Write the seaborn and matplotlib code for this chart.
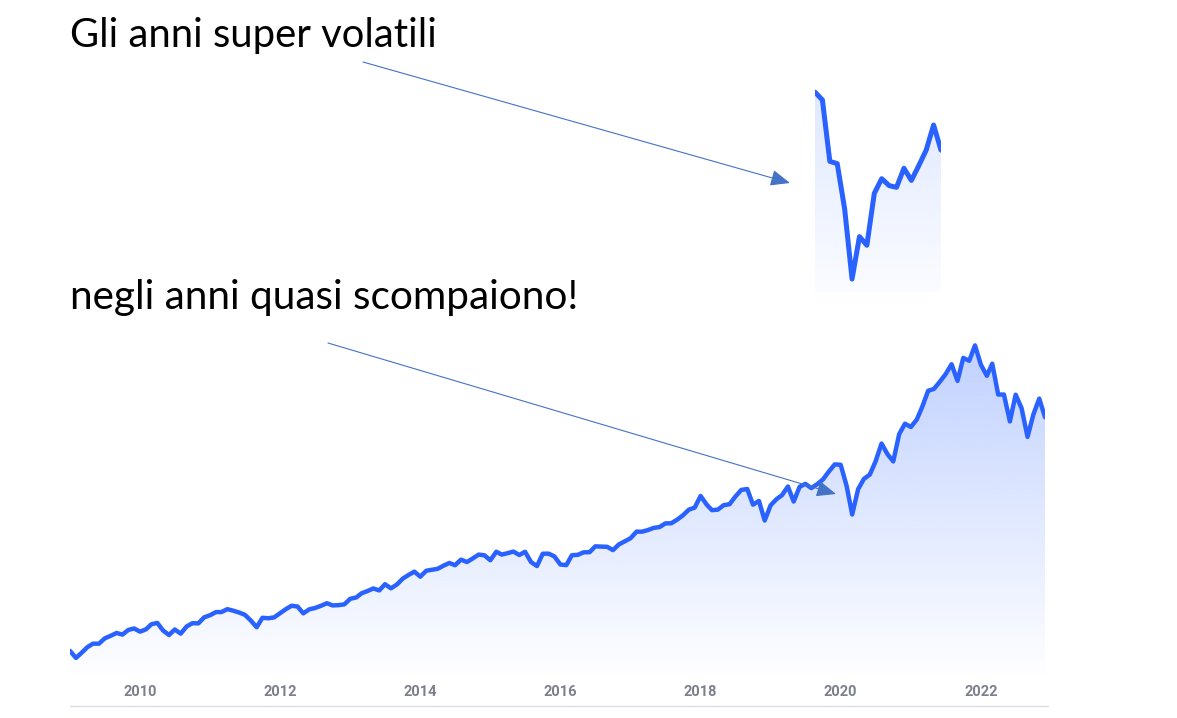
import numpy as np
import pandas as pd
import matplotlib.pyplot as plt
import matplotlib.colors as mcolors
import matplotlib.dates as mdates
from matplotlib.lines import Line2D
import seaborn as sns

# monthly closes Jan 2009 - Dec 2022
months = pd.date_range('2009-01-01', '2022-12-01', freq='MS')
close_2009 = [826, 735, 798, 873, 919, 919, 987, 1021, 1057, 1036, 1096, 1115]
close_2010 = [1074, 1104, 1169, 1187, 1089, 1031, 1102, 1049, 1141, 1183, 1181, 1258]
close_2011 = [1286, 1327, 1326, 1364, 1345, 1321, 1292, 1219, 1131, 1253, 1247, 1258]
close_2012 = [1312, 1366, 1408, 1398, 1310, 1362, 1379, 1407, 1441, 1412, 1416, 1426]
close_2013 = [1498, 1515, 1569, 1598, 1631, 1606, 1686, 1633, 1682, 1757, 1806, 1848]
close_2014 = [1783, 1860, 1872, 1884, 1924, 1960, 1931, 2003, 1972, 2018, 2068, 2059]
close_2015 = [1995, 2105, 2068, 2086, 2107, 2063, 2104, 1972, 1920, 2079, 2080, 2044]
close_2016 = [1940, 1932, 2060, 2065, 2097, 2099, 2174, 2171, 2168, 2126, 2199, 2239]
close_2017 = [2279, 2364, 2363, 2384, 2412, 2423, 2470, 2472, 2519, 2575, 2648, 2674]
close_2018 = [2824, 2714, 2641, 2648, 2705, 2718, 2816, 2902, 2914, 2712, 2760, 2507]
close_2019 = [2704, 2784, 2834, 2946, 2752, 2942, 2980, 2926, 2977, 3038, 3141, 3231]
close_2020 = [3226, 2954, 2585, 2912, 3044, 3100, 3271, 3500, 3363, 3270, 3622, 3756]
close_2021 = [3714, 3811, 3973, 4181, 4204, 4298, 4395, 4523, 4308, 4605, 4567, 4766]
close_2022 = [4516, 4374, 4530, 4132, 4132, 3785, 4130, 3955, 3586, 3872, 4080, 3840]
closes = (close_2009 + close_2010 + close_2011 + close_2012 + close_2013 + close_2014 +
          close_2015 + close_2016 + close_2017 + close_2018 + close_2019 + close_2020 +
          close_2021 + close_2022)

# weekly closes for the zoomed 2020 crash
weeks = pd.date_range('2020-02-14', '2020-06-12', freq='W-FRI')
crash = [3385, 3340, 2985, 2972, 2710, 2305, 2550, 2500, 2800, 2885, 2845, 2835,
         2945, 2875, 2960, 3050, 3195, 3050]

tick_years = [2010, 2012, 2014, 2016, 2018, 2020, 2022]

title_top = 'Gli anni super volatili'
title_bottom = 'negli anni quasi scompaiono!'

LINE = '#2962ff'
ARROW = '#4472c4'
W, H = 1177, 718


def fx(px):
    return px / W


def fy(py):
    return 1 - py / H


def gradient_fill(ax, x, y, y0, y1, alpha_top, alpha_bottom=0.0):
    xn = mdates.date2num(x)
    poly = ax.fill_between(xn, y, y0, facecolor='none', edgecolor='none')
    rgba = np.zeros((256, 1, 4))
    rgba[:, :, :3] = mcolors.to_rgb(LINE)
    rgba[:, 0, 3] = np.linspace(alpha_top, alpha_bottom, 256)
    im = ax.imshow(rgba, extent=[xn[0], xn[-1], y0, y1], aspect='auto',
                   origin='upper', zorder=1, interpolation='bilinear')
    im.set_clip_path(poly.get_paths()[0], transform=ax.transData)


sns.set_theme(style='white')
plt.rcParams['font.family'] = ['Lato', 'DejaVu Sans']

fig = plt.figure(figsize=(W / 100, H / 100), dpi=100)

# main chart
ax = fig.add_axes([fx(70), fy(675), fx(1045) - fx(70), fy(335) - fy(675)])
ylo, yhi = 515, 4900
gradient_fill(ax, months, closes, ylo, yhi, 0.30, 0.005)
sns.lineplot(x=months, y=closes, ax=ax, color=LINE, lw=3.2, zorder=3)
ax.set_xlim(months[0], months[-1])
ax.set_ylim(ylo, yhi)
ax.set_xticks([pd.Timestamp(f'{y}-01-01') for y in tick_years])
ax.set_xticklabels([str(y) for y in tick_years])
ax.set_yticks([])
ax.set_xlabel('')
ax.set_ylabel('')
ax.tick_params(axis='x', length=0, pad=7, labelsize=10.5, labelcolor='#7d808c')
for lab in ax.get_xticklabels():
    lab.set_fontweight('bold')
    lab.set_family(['Roboto', 'DejaVu Sans'])
sns.despine(ax=ax, left=True, bottom=True)
fig.add_artist(Line2D([fx(70), fx(1048)], [fy(706), fy(706)], color='#dcdce6', lw=1))

# inset with the 2020 crash
ax_in = fig.add_axes([fx(815), fy(292), fx(941) - fx(815), fy(88) - fy(292)])
in_lo, in_hi = 2230, 3409
gradient_fill(ax_in, weeks, crash, in_lo, in_hi, 0.15, 0.02)
sns.lineplot(x=weeks, y=crash, ax=ax_in, color=LINE, lw=3.6, zorder=3)
ax_in.set_xlim(weeks[0], weeks[-1])
ax_in.set_ylim(in_lo, in_hi)
ax_in.axis('off')

# titles
t1 = fig.text(fx(70), fy(47), title_top, fontsize=24, color='black', va='baseline')
t2 = fig.text(fx(70), fy(309), title_bottom, fontsize=24, color='black', va='baseline')
fig.canvas.draw()
for t, target in [(t1, 367), (t2, 508)]:
    w = t.get_window_extent().width
    t.set_fontsize(t.get_fontsize() * target / w)

# arrows
arrow_kw = dict(arrowstyle='-|>,head_length=0.6,head_width=0.25', color=ARROW,
                lw=0.8, mutation_scale=20, shrinkA=0, shrinkB=0)
ax.annotate('', xy=(fx(790), fy(183)), xytext=(fx(363), fy(62)),
            xycoords='figure fraction', textcoords='figure fraction',
            arrowprops=arrow_kw, annotation_clip=False)
ax.annotate('', xy=(fx(836), fy(494)), xytext=(fx(328), fy(343)),
            xycoords='figure fraction', textcoords='figure fraction',
            arrowprops=arrow_kw, annotation_clip=False)

fig.savefig('out.png', dpi=100)
